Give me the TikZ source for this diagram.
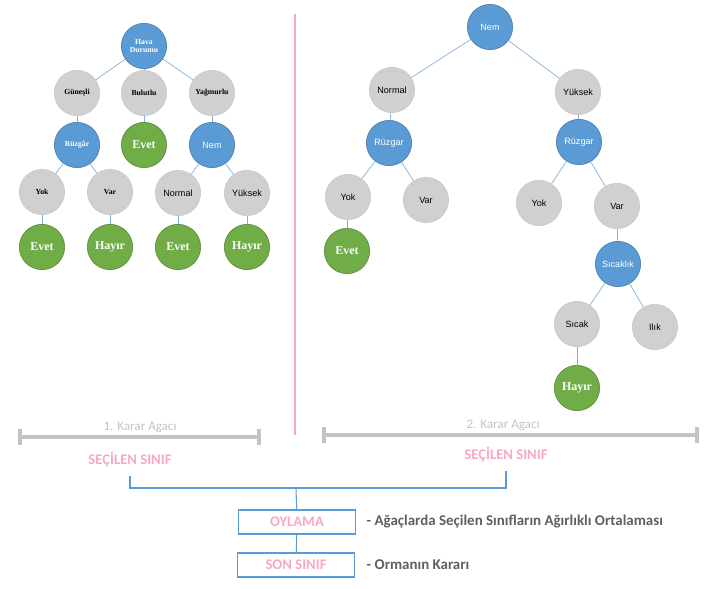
\documentclass[tikz,border=0pt]{standalone}
\usepackage{fontspec}
\setmainfont{Liberation Serif}
\newfontfamily\arialfont{Liberation Sans}
\newfontfamily\calibrifont{Carlito}
\usepackage{tikz}
\usetikzlibrary{arrows.meta,positioning}
\definecolor{nodeblue}{HTML}{5B9BD5}
\definecolor{nodegray}{HTML}{D0D0D0}
\definecolor{leafgreen}{HTML}{70AD47}
\definecolor{edgeblue}{HTML}{7FAEDC}
\definecolor{rosepink}{HTML}{F7A8C6}
\definecolor{bargray}{HTML}{C3C3C3}
\definecolor{textgray}{HTML}{5F5F5F}
\tikzset{
    tree node/.style={
        circle,
        minimum size=34pt,
        inner sep=0pt,
        align=center
    },
    tree attr/.style={tree node, draw=nodeblue!75!black, fill=nodeblue, text=white},
    tree val/.style={tree node, draw=gray!45, fill=nodegray, text=black},
    tree leaf/.style={tree node, draw=leafgreen!75!black, fill=leafgreen, text=white,
        font=\bfseries\fontsize{9}{10}\selectfont},
    old font/.style={font=\bfseries\fontsize{5.8}{6.5}\selectfont},
    new font/.style={font=\arialfont\fontsize{6.8}{8}\selectfont},
    tree edge/.style={draw=edgeblue, line width=0.5pt},
    tree bar/.style={draw=bargray, line width=2.3pt},
    bar title/.style={font=\calibrifont\fontsize{9.8}{11}\selectfont, text=bargray},
    pick label/.style={font=\calibrifont\bfseries\fontsize{11}{13}\selectfont, text=rosepink},
    vote box/.style={draw=nodeblue, line width=0.8pt, minimum width=88pt, minimum height=18pt,
        inner sep=0pt, font=\calibrifont\bfseries\fontsize{11}{13}\selectfont, text=rosepink},
    vote note/.style={anchor=west, font=\calibrifont\bfseries\fontsize{11.2}{13}\selectfont, text=textgray},
    flow line/.style={draw=nodeblue, line width=0.8pt}
}
\begin{document}
\begin{tikzpicture}[x=0.75pt, y=-0.75pt]
\useasboundingbox (0,0) rectangle (711,589);

% Tree 1: Hava Durumu
\node[tree attr, old font] (h0) at (144,46) {Hava\\Durumu};
\node[tree val, old font] (h1a) at (77,93) {Güneşli};
\node[tree val, old font] (h1b) at (144,93) {Bulutlu};
\node[tree val, old font] (h1c) at (212,93) {Yağmurlu};
\node[tree attr, old font] (h2a) at (77,145) {Rüzgâr};
\node[tree leaf] (h2b) at (144,145) {Evet};
\node[tree attr, new font] (h2c) at (212,145) {Nem};
\node[tree val, old font] (h3a) at (42,192) {Yok};
\node[tree val, old font] (h3b) at (110,192) {Var};
\node[tree val, new font] (h3c) at (178,193) {Normal};
\node[tree val, new font] (h3d) at (247,193) {Yüksek};
\node[tree leaf] (h4a) at (42,247) {Evet};
\node[tree leaf] (h4b) at (110,247) {Hayır};
\node[tree leaf] (h4c) at (178,247) {Evet};
\node[tree leaf] (h4d) at (247,247) {Hayır};
\draw[tree edge] (h0) -- (h1a);
\draw[tree edge] (h0) -- (h1b);
\draw[tree edge] (h0) -- (h1c);
\draw[tree edge] (h1a) -- (h2a);
\draw[tree edge] (h1b) -- (h2b);
\draw[tree edge] (h1c) -- (h2c);
\draw[tree edge] (h2a) -- (h3a);
\draw[tree edge] (h2a) -- (h3b);
\draw[tree edge] (h2c) -- (h3c);
\draw[tree edge] (h2c) -- (h3d);
\draw[tree edge] (h3a) -- (h4a);
\draw[tree edge] (h3b) -- (h4b);
\draw[tree edge] (h3c) -- (h4c);
\draw[tree edge] (h3d) -- (h4d);

% Divider
\coordinate (d0) at (295,14);
\coordinate (d1) at (295,435);
\draw[draw=rosepink, line width=2.2pt] (d0) -- (d1);

% Tree 2: Nem
\node[tree attr, new font] (n0) at (490,27) {Nem};
\node[tree val, new font] (n1a) at (392,90) {Normal};
\node[tree val, new font] (n1b) at (578,92) {Yüksek};
\node[tree attr, new font] (n2a) at (389,143) {Rüzgar};
\node[tree attr, new font] (n2b) at (579,142) {Rüzgar};
\node[tree val, new font] (n3a) at (348,197) {Yok};
\node[tree val, new font] (n3b) at (426,200) {Var};
\node[tree val, new font] (n3c) at (539,203) {Yok};
\node[tree val, new font] (n3d) at (617,206) {Var};
\node[tree leaf] (n4a) at (347,251) {Evet};
\node[tree attr, new font] (n4b) at (618,264) {Sıcaklık};
\node[tree val, new font] (n5a) at (577,324) {Sıcak};
\node[tree val, new font] (n5b) at (655,327) {Ilık};
\node[tree leaf] (n6a) at (577,388) {Hayır};
\draw[tree edge] (n0) -- (n1a);
\draw[tree edge] (n0) -- (n1b);
\draw[tree edge] (n1a) -- (n2a);
\draw[tree edge] (n1b) -- (n2b);
\draw[tree edge] (n2a) -- (n3a);
\draw[tree edge] (n2a) -- (n3b);
\draw[tree edge] (n2b) -- (n3c);
\draw[tree edge] (n2b) -- (n3d);
\draw[tree edge] (n3a) -- (n4a);
\draw[tree edge] (n3d) -- (n4b);
\draw[tree edge] (n4b) -- (n5a);
\draw[tree edge] (n4b) -- (n5b);
\draw[tree edge] (n5a) -- (n6a);

% Bars and chosen classes
\coordinate (b1l) at (20,437);
\coordinate (b1r) at (259,437);
\coordinate (b2l) at (324,435);
\coordinate (b2r) at (697,435);
\draw[tree bar] ([yshift=6pt]b1l) -- ([yshift=-6pt]b1l) (b1l) -- (b1r)
    ([yshift=6pt]b1r) -- ([yshift=-6pt]b1r);
\draw[tree bar] ([yshift=6pt]b2l) -- ([yshift=-6pt]b2l) (b2l) -- (b2r)
    ([yshift=6pt]b2r) -- ([yshift=-6pt]b2r);
\node[bar title] (t1) at (140,427) {1. Karar Agacı};
\node[bar title] (t2) at (503,425) {2. Karar Agacı};
\node[pick label] (p1) at (130,460) {SEÇİLEN SINIF};
\node[pick label] (p2) at (506,455) {SEÇİLEN SINIF};

% Voting
\coordinate (j0) at (296,488);
\node[vote box] (v0) at (297,522) {OYLAMA};
\node[vote box] (v1) at (296,565) {SON SINIF};
\draw[flow line] ([yshift=-3pt]p1.south) |- (j0) -| ([yshift=-3pt]p2.south);
\draw[flow line] (j0) -- (v0);
\draw[flow line] (v0) -- (v1);
\node[vote note] (m0) at (362,522) {- Ağaçlarda Seçilen Sınıfların Ağırlıklı Ortalaması};
\node[vote note] (m1) at (362,565) {- Ormanın Kararı};
\end{tikzpicture}
\end{document}
